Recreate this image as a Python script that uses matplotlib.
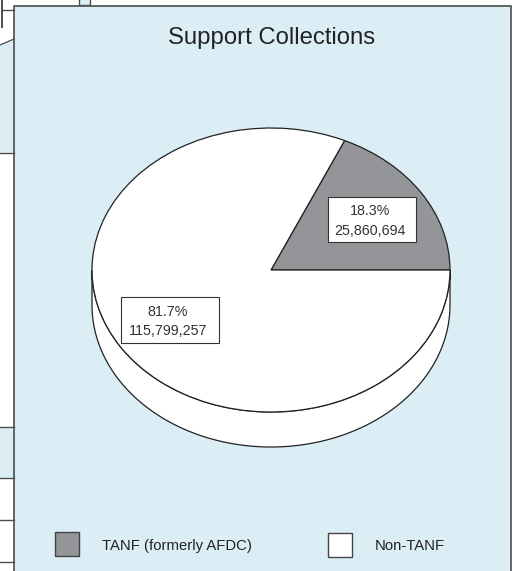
import matplotlib
matplotlib.use("Agg")
import matplotlib.pyplot as plt
import numpy as np
from matplotlib.patches import Rectangle, Polygon

plt.rcParams['font.family'] = ['Liberation Sans', 'DejaVu Sans']

# ---- data ----
title = "Support Collections"
categories = ["TANF (formerly AFDC)", "Non-TANF"]
values = [25860694, 115799257]
colors = ["#939598", "#ffffff"]

total = sum(values)
pct_labels = [f"{v / total * 100:.1f}%" for v in values]
num_labels = [f"{v:,}" for v in values]

W, H = 515, 571
LIGHT = "#dbeef6"
EDGE = "#4d4d4d"

fig = plt.figure(figsize=(W / 100, H / 100), dpi=100)
fig.patch.set_facecolor("white")

# background axes in pixel coordinates
bg = fig.add_axes([0, 0, 1, 1])
bg.set_xlim(0, W)
bg.set_ylim(H, 0)
bg.axis("off")

# fragments of neighbouring page elements on the left
bg.plot([1.5, 1.5], [0, 27], color=EDGE, lw=1.4)
bg.plot([2, 14], [9.5, 9.5], color=EDGE, lw=1.0)
bg.add_patch(Rectangle((79, -2), 11, 7, facecolor=LIGHT, edgecolor=EDGE, lw=1.0))
bg.add_patch(Polygon([(0, 45), (14, 39), (14, 152.5), (0, 152.5)], closed=True,
                     facecolor=LIGHT, edgecolor="none"))
bg.plot([0, 14], [45, 39], color=EDGE, lw=0.9)
bg.plot([0, 14], [152.5, 152.5], color=EDGE, lw=1.0)
bg.add_patch(Rectangle((0, 426.5), 14, 51.5, facecolor=LIGHT, edgecolor="none"))
for yy in [426.5, 478, 520, 562]:
    bg.plot([0, 14], [yy, yy], color=EDGE, lw=1.0)

# main panel
bg.add_patch(Rectangle((14, 5.5), 496.5, 580, facecolor=LIGHT, edgecolor=EDGE, lw=1.2))

# ---- pie axes (ellipse via non-equal aspect) ----
cx, cy, rx, ry, depth = 271, 270, 179, 142, 35
d = depth / ry
ax = fig.add_axes([(cx - rx) / W, (H - cy - ry - depth) / H, 2 * rx / W, (2 * ry + depth) / H])
ax.set_facecolor("none")

# 3D side wall (lower half extruded)
t = np.linspace(np.pi, 2 * np.pi, 200)
side = list(zip(np.cos(t), np.sin(t) - d)) + list(zip(np.cos(t[::-1]), np.sin(t[::-1])))
ax.add_patch(Polygon(side, closed=True, facecolor="white", edgecolor="#222222", lw=0.9, zorder=1))

wedges, _ = ax.pie(values, colors=colors, startangle=0, counterclock=True,
                   wedgeprops=dict(edgecolor="#222222", linewidth=0.9))
for w in wedges:
    w.set_zorder(2)
ax.set_aspect("auto")
ax.set_xlim(-1, 1)
ax.set_ylim(-1 - d, 1)
ax.axis("off")
for p in ax.patches:
    p.set_clip_on(False)

# ---- overlay axes for text ----
ov = fig.add_axes([0, 0, 1, 1])
ov.set_xlim(0, W)
ov.set_ylim(H, 0)
ov.axis("off")
ov.set_facecolor("none")

ov.text(272, 44, title, ha="center", va="baseline", fontsize=17.2, color="#222222")

# label boxes: (rect x0, y0, x1, y1), text center x, baselines
boxes = [((328, 197, 416, 242), 370, (215, 235)),
         ((121, 297, 219, 343), 168, (316, 335))]
for i, ((x0, y0, x1, y1), tx, (b1, b2)) in enumerate(boxes):
    ov.add_patch(Rectangle((x0, y0), x1 - x0, y1 - y0, facecolor="white",
                           edgecolor="#333333", lw=0.8))
    ov.text(tx, b1, pct_labels[i], ha="center", va="baseline", fontsize=10.3, color="#333333")
    ov.text(tx, b2, num_labels[i], ha="center", va="baseline", fontsize=10.3, color="#333333")

# legend
legend_pos = [((55, 532), 102, 550), ((328, 532.5), 375, 549.5)]
for i, ((sx, sy), tx, by) in enumerate(legend_pos):
    ov.add_patch(Rectangle((sx, sy), 24, 24, facecolor=colors[i], edgecolor="#444444", lw=1.0))
    ov.text(tx, by, categories[i], ha="left", va="baseline", fontsize=10.7, color="#222222")

fig.savefig("out.png", dpi=100)
